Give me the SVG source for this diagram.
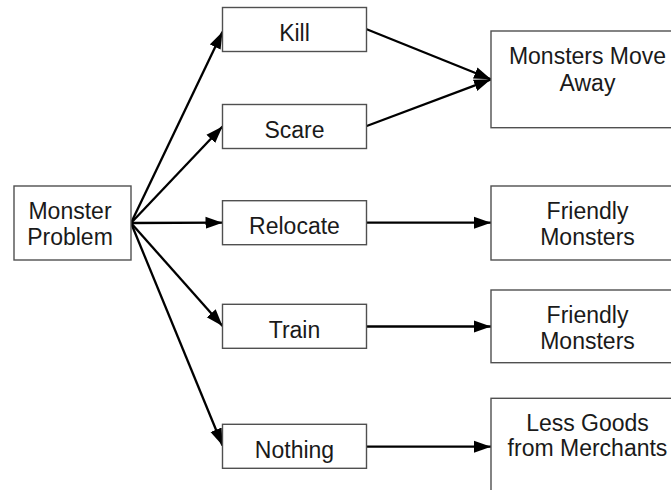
<svg xmlns="http://www.w3.org/2000/svg" width="671" height="490" viewBox="0 0 671 490">
<style>
.box{fill:#fff;stroke:#505050;stroke-width:1.4}
.t{font-family:"Liberation Sans",Arial,sans-serif;font-size:23px;fill:#1a1a1a;text-anchor:middle}
.c{fill:none;stroke:#000;stroke-width:2.3;marker-end:url(#ah)}
</style>
<defs>
<marker id="ah" markerUnits="userSpaceOnUse" markerWidth="18" markerHeight="13" refX="17" refY="6.5" orient="auto">
<path d="M0,0.5 L17,6.5 L0,12.5 z" fill="#000"/>
</marker>
</defs>
<rect width="671" height="490" fill="#fff"/>
<g id="connectors">
<line class="c" x1="131" y1="223" x2="222.5" y2="31.7"/>
<line class="c" x1="131" y1="223" x2="222.5" y2="126.5"/>
<line class="c" x1="131" y1="223" x2="222.5" y2="222.7"/>
<line class="c" x1="131" y1="223" x2="222.5" y2="326"/>
<line class="c" x1="131" y1="223" x2="222.5" y2="445.5"/>
<line class="c" x1="366.7" y1="29.3" x2="491" y2="79.3"/>
<line class="c" x1="366.7" y1="126" x2="491" y2="79.3"/>
<line class="c" x1="366.7" y1="222.7" x2="491" y2="222.7"/>
<line class="c" x1="366.7" y1="326.5" x2="491" y2="326.5"/>
<line class="c" x1="366.7" y1="446.7" x2="491" y2="446.7"/>
</g>
<g id="monster-problem">
<rect class="box" x="14" y="186" width="117" height="74"/>
<text class="t" x="70" y="219">Monster</text>
<text class="t" x="70" y="245">Problem</text>
</g>
<g id="kill">
<rect class="box" x="222.5" y="7.5" width="144" height="44"/>
<text class="t" x="294.5" y="40.8">Kill</text>
</g>
<g id="scare">
<rect class="box" x="222.5" y="104.5" width="144" height="44"/>
<text class="t" x="294.5" y="137.8">Scare</text>
</g>
<g id="relocate">
<rect class="box" x="222.5" y="200.7" width="144" height="44"/>
<text class="t" x="294.5" y="233.6">Relocate</text>
</g>
<g id="train">
<rect class="box" x="222.5" y="304.3" width="144" height="44"/>
<text class="t" x="294.5" y="337.7">Train</text>
</g>
<g id="nothing">
<rect class="box" x="222.5" y="424.3" width="144" height="44"/>
<text class="t" x="294.5" y="458">Nothing</text>
</g>
<g id="monsters-move-away">
<rect class="box" x="491" y="31" width="200" height="96.7"/>
<text class="t" x="587.5" y="64">Monsters Move</text>
<text class="t" x="587.5" y="90.7">Away</text>
</g>
<g id="friendly-monsters-1">
<rect class="box" x="491" y="186" width="200" height="74"/>
<text class="t" x="587.5" y="218.5">Friendly</text>
<text class="t" x="587.5" y="245">Monsters</text>
</g>
<g id="friendly-monsters-2">
<rect class="box" x="491" y="290" width="200" height="72.7"/>
<text class="t" x="587.5" y="323">Friendly</text>
<text class="t" x="587.5" y="349">Monsters</text>
</g>
<g id="less-goods">
<rect class="box" x="491" y="398.3" width="200" height="110"/>
<text class="t" x="587.5" y="430.7">Less Goods</text>
<text class="t" x="587.5" y="456">from Merchants</text>
</g>
</svg>
